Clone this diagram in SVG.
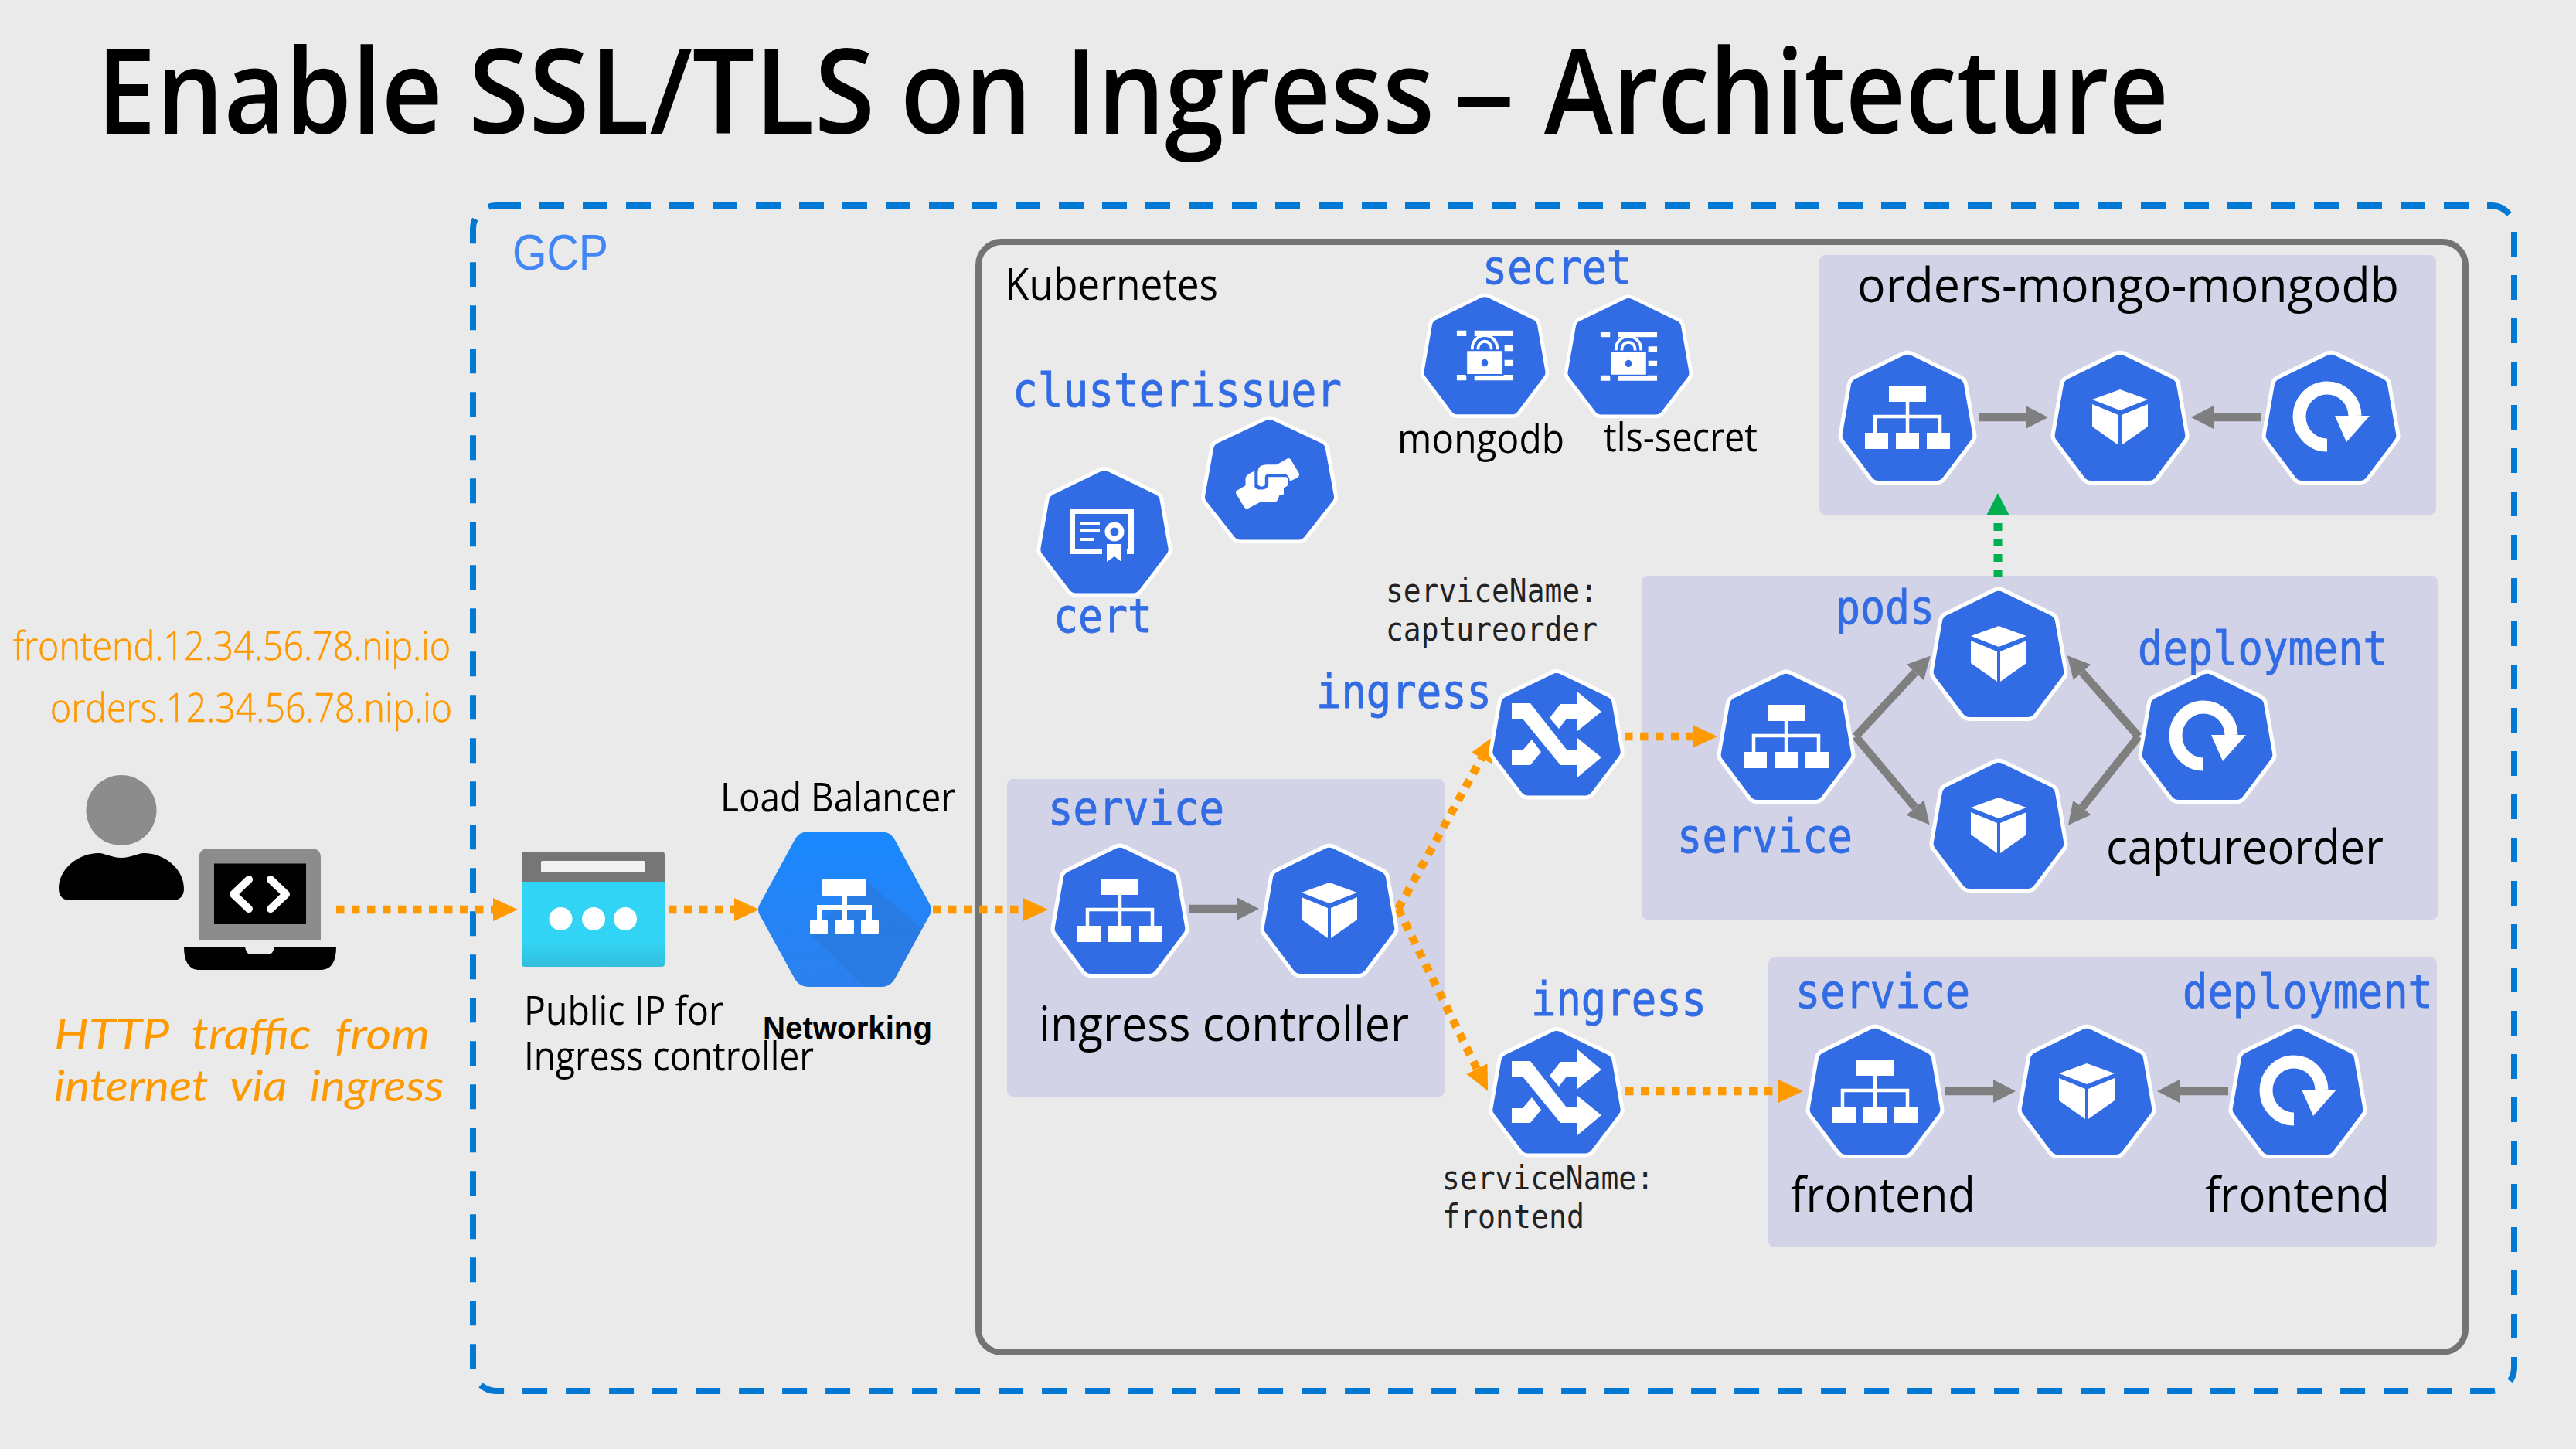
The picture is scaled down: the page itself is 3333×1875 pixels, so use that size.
<svg xmlns="http://www.w3.org/2000/svg" width="3333" height="1875" viewBox="0 0 3333 1875">
<style>
text{white-space:pre}
.ui{font-family:"Open Sans","Noto Sans",sans-serif;fill:#000}
.mono{font-family:"DejaVu Sans Mono","Liberation Mono",monospace}
.kw{fill:#326ce5;stroke:#326ce5;stroke-width:.9;font-size:60px}
.sm{fill:#222;font-size:43px}
.url{fill:#ff9900;stroke:#ff9900;stroke-width:.6;font-family:"Open Sans","Noto Sans",sans-serif;font-weight:300;font-size:51px}
.hand{fill:#ff9900;font-family:Lato,"Open Sans",sans-serif;font-style:italic;font-size:57px;word-spacing:14px}
.box{fill:#d2d3e7}
.hep{fill:#326ce5;stroke:#fff;stroke-width:5;stroke-linejoin:round}
.w{fill:#fff}
.ws{fill:none;stroke:#fff}
.cg{fill:none;stroke:#7f7f7f;stroke-width:10.5;marker-end:url(#ag)}
.co{fill:none;stroke:#ff9900;stroke-width:10.5;stroke-dasharray:10.5 9.5;marker-end:url(#ao)}
</style>
<defs>
<marker id="ag" markerUnits="userSpaceOnUse" markerWidth="30" markerHeight="32" refX="0" refY="16" orient="auto"><path d="M0,1 L29,16 L0,31Z" fill="#7f7f7f"/></marker>
<marker id="ao" markerUnits="userSpaceOnUse" markerWidth="33" markerHeight="32" refX="0" refY="16" orient="auto"><path d="M0,1 L32,16 L0,31Z" fill="#ff9900"/></marker>
<marker id="agr" markerUnits="userSpaceOnUse" markerWidth="30" markerHeight="32" refX="0" refY="16" orient="auto"><path d="M0,1 L29,16 L0,31Z" fill="#00b050"/></marker>
<linearGradient id="cy" x1="0" y1="0" x2="0" y2="1"><stop offset="0" stop-color="#32d4f5"/><stop offset=".7" stop-color="#32d4f5"/><stop offset="1" stop-color="#32bedd"/></linearGradient>
<linearGradient id="lb" x1="0" y1="0" x2="0" y2="1"><stop offset="0" stop-color="#1a88ff"/><stop offset="1" stop-color="#2d80ee"/></linearGradient>
<path id="hp" class="hep" d="M-6,-80 Q0,-83 6,-80 L68,-50 Q73,-47 74,-42 L85,21 Q86,27 82,31 L47,77 Q43,82 37,82 H-37 Q-43,82 -47,77 L-82,31 Q-86,27 -85,21 L-74,-42 Q-73,-47 -68,-50Z"/>
<use id="hq" href="#hp" transform="scale(1.02,1.03)"/>
<g id="i-svc"><rect class="w" x="-24" y="-41" width="48" height="21"/><path class="ws" stroke-width="4.5" d="M0,-20 V20 M-42,20 V-1 H42 V20"/><rect class="w" x="-55" y="20" width="30" height="21"/><rect class="w" x="-15" y="20" width="30" height="21"/><rect class="w" x="25" y="20" width="30" height="21"/></g>
<g id="i-pod"><path class="w" d="M0,-36 L36,-23 L0,-9 L-36,-23Z M-36,-17 L-2,-3 L-2,36 L-36,12Z M36,-17 L2,-3 L2,36 L36,12Z"/></g>
<g id="i-dep"><path class="ws" stroke-width="17" d="M-5,36 A36,37 0 1 1 31,-2"/><path class="w" d="M5,-2 L50,-2 L20,32Z"/></g>
<g id="i-ing"><path class="w" d="M-58,-40 L-34,-40 L13,20 L27,20 L27,5 L58,30 L27,56 L27,40 L5,40 L-44,-20 L-58,-20Z M-9,-21 L5,-39 L27,-39 L27,-55 L58,-29 L27,-4 L27,-20 L13,-20 L3,-7Z M-58,21 L-44,21 L-32,7 L-20,23 L-34,40 L-58,40Z"/></g>
<g id="i-sec"><path class="w" d="M-38,-33.5 H-25 V-26 H-38Z M-14,-33.5 H39 V-26 H-14Z M27,-13.5 H39 V-6 H27Z M27,6 H39 V13.5 H27Z M-38,26 H-25 V33.5 H-38Z M-14,26 H39 V33.5 H-14Z"/><path d="M-17,-6 V-10 A17,17 0 0 1 17,-10 V-6 M-9,-6 V-10 A9,9 0 0 1 9,-10 V-6" fill="#326ce5" stroke="#fff" stroke-width="4"/><rect x="-25" y="-7" width="50" height="33" fill="#fff" stroke="#326ce5" stroke-width="2"/><ellipse cx="0" cy="10" rx="4.5" ry="5" fill="#326ce5"/></g>
</defs>

<rect width="3333" height="1875" fill="#eaeaea"/>
<text class="ui" y="173" font-size="152" font-weight="600"><tspan x="125" textLength="448" lengthAdjust="spacingAndGlyphs">Enable</tspan> <tspan x="606" textLength="526" lengthAdjust="spacingAndGlyphs">SSL/TLS</tspan> <tspan x="1165" textLength="170" lengthAdjust="spacingAndGlyphs">on</tspan> <tspan x="1378" textLength="478" lengthAdjust="spacingAndGlyphs">Ingress</tspan> <tspan x="1880" textLength="80" lengthAdjust="spacingAndGlyphs">–</tspan> <tspan x="1998" textLength="808" lengthAdjust="spacingAndGlyphs">Architecture</tspan></text>

<g id="gcp"><rect x="612" y="266" width="2641" height="1534" rx="30" fill="none" stroke="#0078d4" stroke-width="8" stroke-dasharray="32 24"/>
<text x="663" y="349" font-family="Liberation Sans,sans-serif" font-size="64" fill="#4285f4" textLength="124" lengthAdjust="spacingAndGlyphs">GCP</text></g>

<g id="kubernetes"><rect x="1266" y="313" width="1924" height="1437" rx="30" fill="none" stroke="#737373" stroke-width="8"/>
<text class="ui" x="1300" y="388" font-size="56" textLength="276" lengthAdjust="spacingAndGlyphs">Kubernetes</text></g>

<g id="boxes">
<rect class="box" x="2354" y="330" width="798" height="336" rx="8"/>
<rect class="box" x="2124" y="745" width="1030" height="445" rx="8"/>
<rect class="box" x="2288" y="1239" width="865" height="375" rx="8"/>
<rect class="box" x="1303" y="1008" width="566" height="411" rx="8"/>
</g>

<g id="connectors">
<path class="co" d="M435,1177 H638"/>
<path class="co" d="M865,1177 H950"/>
<path class="co" d="M1207,1177 H1324"/>
<path class="co" d="M1809,1176 L1917,981"/>
<path class="co" d="M1809,1176 L1911,1383"/>
<path class="co" d="M2102,953 H2190"/>
<path class="co" d="M2103,1412 H2301"/>
<path class="cg" d="M1539,1176 H1600"/>
<path class="cg" d="M2560,540 H2621"/>
<path class="cg" d="M2926,540 H2864"/>
<path class="cg" d="M2401,953 L2478,870"/>
<path class="cg" d="M2401,953 L2478,1045"/>
<path class="cg" d="M2767,953 L2694,870"/>
<path class="cg" d="M2767,953 L2694,1045"/>
<path class="cg" d="M2517,1412 H2579"/>
<path class="cg" d="M2883,1412 H2820"/>
<path d="M2585,747 V667" fill="none" stroke="#00b050" stroke-width="11" stroke-dasharray="10 10" marker-end="url(#agr)"/>
</g>

<g id="client"><ellipse cx="157" cy="1048.5" rx="45.5" ry="45.5" fill="#8c8c8c"/>
<path d="M128,1104 C100,1104 76,1125 76,1150 C76,1160 82,1165 90,1165 H224 C232,1165 238,1160 238,1150 C238,1125 214,1104 186,1104 C178,1104 170,1110 157,1110 C144,1110 136,1104 128,1104Z" fill="#000"/>
<path d="M257.5,1216 V1110 Q257.5,1098 270,1098 H403 Q415,1098 415,1110 V1216Z" fill="#8c8c8c"/>
<rect x="277" y="1117.5" width="119" height="78.5" fill="#000"/>
<path class="ws" stroke-width="10" stroke-linecap="round" stroke-linejoin="round" d="M322,1138 L302,1157 L322,1176 M350,1138 L370,1157 L350,1176"/>
<path d="M238,1225 H317 Q318,1235 326,1235 H346 Q354,1235 355,1225 H435 Q435,1255 415,1255 H258 Q238,1255 238,1225Z" fill="#000"/>
<text class="url" x="17" y="854" textLength="566" lengthAdjust="spacingAndGlyphs">frontend.12.34.56.78.nip.io</text>
<text class="url" x="65" y="934" textLength="520" lengthAdjust="spacingAndGlyphs">orders.12.34.56.78.nip.io</text>
<text class="hand" x="70" y="1358" textLength="486" lengthAdjust="spacingAndGlyphs">HTTP traffic from</text>
<text class="hand" x="70" y="1425" textLength="504" lengthAdjust="spacingAndGlyphs">internet via ingress</text>
</g>

<g id="public-ip"><path d="M675,1141 V1106 Q675,1102 679,1102 H856 Q860,1102 860,1106 V1141Z" fill="#767676"/>
<path d="M675,1141 H860 V1247 Q860,1251 856,1251 H679 Q675,1251 675,1247Z" fill="url(#cy)"/>
<rect x="700" y="1114" width="135" height="15" rx="2" fill="#f2f2f2"/>
<circle class="w" cx="725.5" cy="1189" r="15"/><circle class="w" cx="768" cy="1189" r="15"/><circle class="w" cx="809" cy="1189" r="15"/>
<text class="ui" x="678" y="1326" font-size="51" textLength="258" lengthAdjust="spacingAndGlyphs">Public IP for</text>
<text class="ui" x="678" y="1385" font-size="51" textLength="375" lengthAdjust="spacingAndGlyphs">Ingress controller</text></g>

<g id="load-balancer"><path d="M1046,1076 H1140 Q1152,1076 1158,1087 L1203,1170 Q1207,1177 1203,1184 L1158,1266 Q1152,1277 1140,1277 H1046 Q1034,1277 1028,1266 L983,1184 Q979,1177 983,1170 L1028,1087 Q1034,1076 1046,1076Z" fill="url(#lb)"/>
<path d="M1121,1140 L1193,1202 L1158,1266 Q1152,1277 1140,1277 H1117 L1048,1208Z" fill="#2a7ae0" fill-opacity=".85"/>
<rect class="w" x="1064" y="1138" width="57" height="21" rx="1"/><path class="ws" stroke-width="7" d="M1092.500,1159 V1191 M1060.500,1191 V1174.500 H1124.500 V1191"/>
<rect class="w" x="1048" y="1191" width="23" height="17" rx="1"/><rect class="w" x="1080" y="1191" width="25" height="17" rx="1"/><rect class="w" x="1114" y="1191" width="23" height="17" rx="1"/>
<text class="ui" x="932" y="1050" font-size="51" textLength="304" lengthAdjust="spacingAndGlyphs">Load Balancer</text>
<text x="987" y="1344" font-family="Liberation Sans,sans-serif" font-weight="700" font-size="40" textLength="219" lengthAdjust="spacingAndGlyphs">Networking</text></g>

<g id="clusterissuer"><text class="mono kw" x="1310" y="526" textLength="426" lengthAdjust="spacingAndGlyphs">clusterissuer</text>
<g transform="translate(1642.500,620.500) scale(1.01,.98)"><use href="#hp"/>
<g transform="scale(.3333) translate(-307,-272)"><path class="w" d="M178,318 L215,296 L215,265 Q218,252 250,238 L250,300 Q255,312 275,312 Q298,312 303,295 L303,262 L372,262 Q380,265 380,280 L375,298 L362,305 L362,330 L345,335 L340,350 Q335,362 320,362 L270,362 L222,388 Q215,388 210,382 L178,326Z"/><path class="w" d="M262,240 Q262,215 295,213 L335,213 L378,188 Q384,187 388,192 L422,250 Q422,258 415,264 L385,280 Q385,262 372,252 L305,250 Q292,250 290,262 L290,290 Q285,300 275,300 Q262,298 262,285Z"/></g></g></g>
<g id="cert"><g transform="translate(1429,688)"><use href="#hp"/><path class="ws" stroke-width="7" d="M-3,25.5 H-41.5 V-26.5 H34.5 V25.5 H29"/><path class="ws" stroke-width="4" d="M-31,-11 H-6 M-31,-1 H-6 M-31,10 H-14"/><circle cx="13" cy="0" r="9" fill="none" stroke="#fff" stroke-width="7"/><path class="w" d="M3,16 H22 V39 L13,32 L3,39Z"/></g>
<text class="mono kw" x="1363" y="818" textLength="128" lengthAdjust="spacingAndGlyphs">cert</text></g>

<g id="secret"><text class="mono kw" x="1918" y="367" textLength="193" lengthAdjust="spacingAndGlyphs">secret</text>
<g transform="translate(1921,460) scale(.95,.96)"><use href="#hp"/><use href="#i-sec"/></g>
<g transform="translate(2107,461) scale(.95,.95)"><use href="#hp"/><use href="#i-sec"/></g>
<text class="ui" x="1808" y="586" font-size="51" textLength="216" lengthAdjust="spacingAndGlyphs">mongodb</text>
<text class="ui" x="2075" y="584" font-size="51" textLength="199" lengthAdjust="spacingAndGlyphs">tls-secret</text></g>

<g id="orders-mongo"><text class="ui" x="2403" y="391" font-size="63" textLength="701" lengthAdjust="spacingAndGlyphs">orders-mongo-mongodb</text>
<g transform="translate(2468,540)"><use href="#hq"/><use href="#i-svc"/></g>
<g transform="translate(2743,540)"><use href="#hq"/><use href="#i-pod"/></g>
<g transform="translate(3016,540)"><use href="#hq"/><use href="#i-dep"/></g></g>

<g id="captureorder"><g transform="translate(2311,953)"><use href="#hq"/><use href="#i-svc"/></g>
<g transform="translate(2586,846)"><use href="#hq"/><use href="#i-pod"/></g>
<g transform="translate(2586,1068)"><use href="#hq"/><use href="#i-pod"/></g>
<g transform="translate(2856,953)"><use href="#hq"/><use href="#i-dep"/></g>
<text class="mono kw" x="2375" y="807" textLength="128" lengthAdjust="spacingAndGlyphs">pods</text>
<text class="mono kw" x="2766" y="860" textLength="324" lengthAdjust="spacingAndGlyphs">deployment</text>
<text class="mono kw" x="2170" y="1103" textLength="227" lengthAdjust="spacingAndGlyphs">service</text>
<text class="ui" x="2725" y="1118" font-size="63" textLength="359" lengthAdjust="spacingAndGlyphs">captureorder</text></g>

<g id="ingress-captureorder"><text class="mono sm" x="1793" y="779" textLength="274" lengthAdjust="spacingAndGlyphs">serviceName:</text>
<text class="mono sm" x="1793" y="829" textLength="274" lengthAdjust="spacingAndGlyphs">captureorder</text>
<text class="mono kw" x="1703" y="916" textLength="227" lengthAdjust="spacingAndGlyphs">ingress</text>
<g transform="translate(2014,950)"><use href="#hp"/><use href="#i-ing"/></g></g>

<g id="ingress-controller"><text class="mono kw" x="1356" y="1067" textLength="228" lengthAdjust="spacingAndGlyphs">service</text>
<g transform="translate(1449,1178)"><use href="#hq"/><use href="#i-svc"/></g>
<g transform="translate(1720,1178)"><use href="#hq"/><use href="#i-pod"/></g>
<text class="ui" x="1344" y="1347" font-size="63" textLength="479" lengthAdjust="spacingAndGlyphs">ingress controller</text></g>

<g id="ingress-frontend"><text class="mono kw" x="1981" y="1314" textLength="227" lengthAdjust="spacingAndGlyphs">ingress</text>
<g transform="translate(2014,1413)"><use href="#hp"/><use href="#i-ing"/></g>
<text class="mono sm" x="1866" y="1539" textLength="274" lengthAdjust="spacingAndGlyphs">serviceName:</text>
<text class="mono sm" x="1866" y="1589" textLength="184" lengthAdjust="spacingAndGlyphs">frontend</text></g>

<g id="frontend"><text class="mono kw" x="2323" y="1304" textLength="226" lengthAdjust="spacingAndGlyphs">service</text>
<text class="mono kw" x="2824" y="1304" textLength="324" lengthAdjust="spacingAndGlyphs">deployment</text>
<g transform="translate(2426,1412)"><use href="#hq"/><use href="#i-svc"/></g>
<g transform="translate(2700,1412)"><use href="#hq"/><use href="#i-pod"/></g>
<g transform="translate(2973,1412)"><use href="#hq"/><use href="#i-dep"/></g>
<text class="ui" x="2317" y="1568" font-size="63" textLength="239" lengthAdjust="spacingAndGlyphs">frontend</text>
<text class="ui" x="2853" y="1568" font-size="63" textLength="239" lengthAdjust="spacingAndGlyphs">frontend</text></g>
</svg>
